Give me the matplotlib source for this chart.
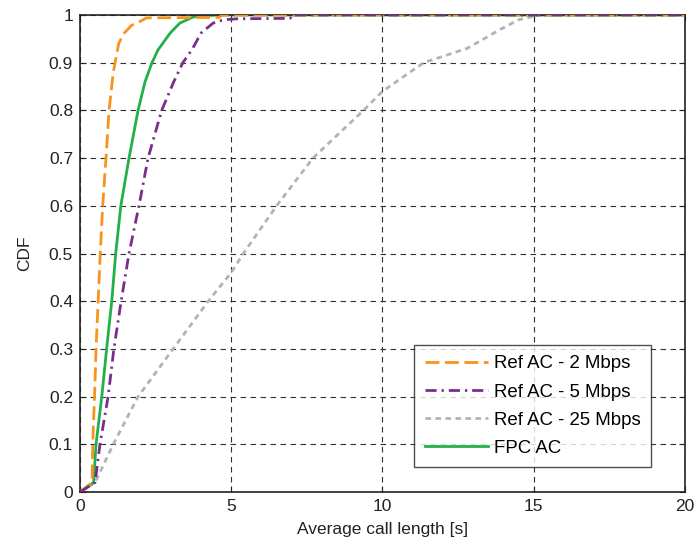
import matplotlib
matplotlib.use("Agg")
import matplotlib.pyplot as plt

plt.rcParams['font.family'] = ['Liberation Sans', 'DejaVu Sans']

# Data
x_2mbps = [0.0, 0.4, 0.42, 0.48, 0.53, 0.6, 0.67, 0.75, 0.86, 0.96, 1.1, 1.16, 1.28, 1.43, 1.7, 2.0, 2.2, 4.6, 4.7, 20.0]
y_2mbps = [0.0, 0.02, 0.1, 0.2, 0.3, 0.4, 0.5, 0.6, 0.7, 0.8, 0.88, 0.9, 0.94, 0.96, 0.978, 0.987, 0.994, 0.995, 1.0, 1.0]

x_5mbps = [0.0, 0.5, 0.66, 0.93, 1.12, 1.36, 1.62, 1.95, 2.25, 2.7, 3.1, 3.4, 3.7, 4.0, 4.4, 4.75, 5.2, 6.95, 7.0, 20.0]
y_5mbps = [0.0, 0.02, 0.1, 0.2, 0.3, 0.4, 0.5, 0.6, 0.7, 0.8, 0.86, 0.9, 0.927, 0.962, 0.983, 0.99, 0.992, 0.993, 1.0, 1.0]

x_fpc = [0.0, 0.45, 0.53, 0.72, 0.88, 1.05, 1.18, 1.35, 1.62, 1.92, 2.15, 2.38, 2.58, 2.98, 3.3, 3.75, 4.5, 20.0]
y_fpc = [0.0, 0.02, 0.1, 0.2, 0.3, 0.4, 0.5, 0.6, 0.7, 0.8, 0.86, 0.9, 0.927, 0.962, 0.983, 0.996, 1.0, 1.0]

x_25mbps = [0.0, 0.5, 1.1, 1.92, 3.08, 4.24, 5.0, 5.4, 6.5, 7.7, 9.37, 10.0, 11.36, 12.8, 13.9, 14.5, 15.2, 20.0]
y_25mbps = [0.0, 0.02, 0.1, 0.2, 0.3, 0.4, 0.46, 0.5, 0.6, 0.7, 0.8, 0.84, 0.9, 0.93, 0.97, 0.99, 1.0, 1.0]

labels = ["Ref AC - 2 Mbps", "Ref AC - 5 Mbps", "Ref AC - 25 Mbps", "FPC AC"]
x_ticks = [0, 5, 10, 15, 20]
y_ticks = [0, 0.1, 0.2, 0.3, 0.4, 0.5, 0.6, 0.7, 0.8, 0.9, 1]
y_tick_labels = ["0", "0.1", "0.2", "0.3", "0.4", "0.5", "0.6", "0.7", "0.8", "0.9", "1"]

fig = plt.figure(figsize=(6.95, 5.49), dpi=100)
ax = fig.add_axes([0.1151, 0.1038, 0.8705, 0.8689])

lw = 2.0
ax.plot(x_2mbps, y_2mbps, color='#F7941D', lw=lw, dashes=(5, 2), label=labels[0], zorder=3)
ax.plot(x_5mbps, y_5mbps, color='#7B2D8E', lw=lw, dashes=(4, 1.8, 0.8, 1.8), label=labels[1], zorder=4)
ax.plot(x_25mbps, y_25mbps, color='#B3B3B3', lw=lw, dashes=(2, 1.6), label=labels[2], zorder=2)
ax.plot(x_fpc, y_fpc, color='#22B04B', lw=lw, label=labels[3], zorder=2.5)

ax.set_xlim(0, 20)
ax.set_ylim(0, 1)
ax.set_xticks(x_ticks)
ax.set_yticks(y_ticks)
ax.set_yticklabels(y_tick_labels)
ax.grid(True, color='#333333', linestyle=(0, (5, 4)), linewidth=0.8)
ax.tick_params(direction='in', length=4, labelsize=12.5, top=True, right=True, colors='#222222',
               labelcolor='#222222', pad=5)
for s in ax.spines.values():
    s.set_linewidth(1.2)
    s.set_color('#222222')

ax.set_xlabel("Average call length [s]", fontsize=12.5, color='#222222', labelpad=6)
ax.set_ylabel("CDF", fontsize=12.5, color='#222222', labelpad=12)

leg = ax.legend(loc='lower right', bbox_to_anchor=(0.943, 0.052), fontsize=13.4, frameon=True,
                fancybox=False, edgecolor='#222222', handlelength=3.4, handletextpad=0.3,
                borderpad=0.55, labelspacing=0.6, borderaxespad=0)
leg.get_frame().set_linewidth(1.0)

fig.savefig("out.png", dpi=100)
